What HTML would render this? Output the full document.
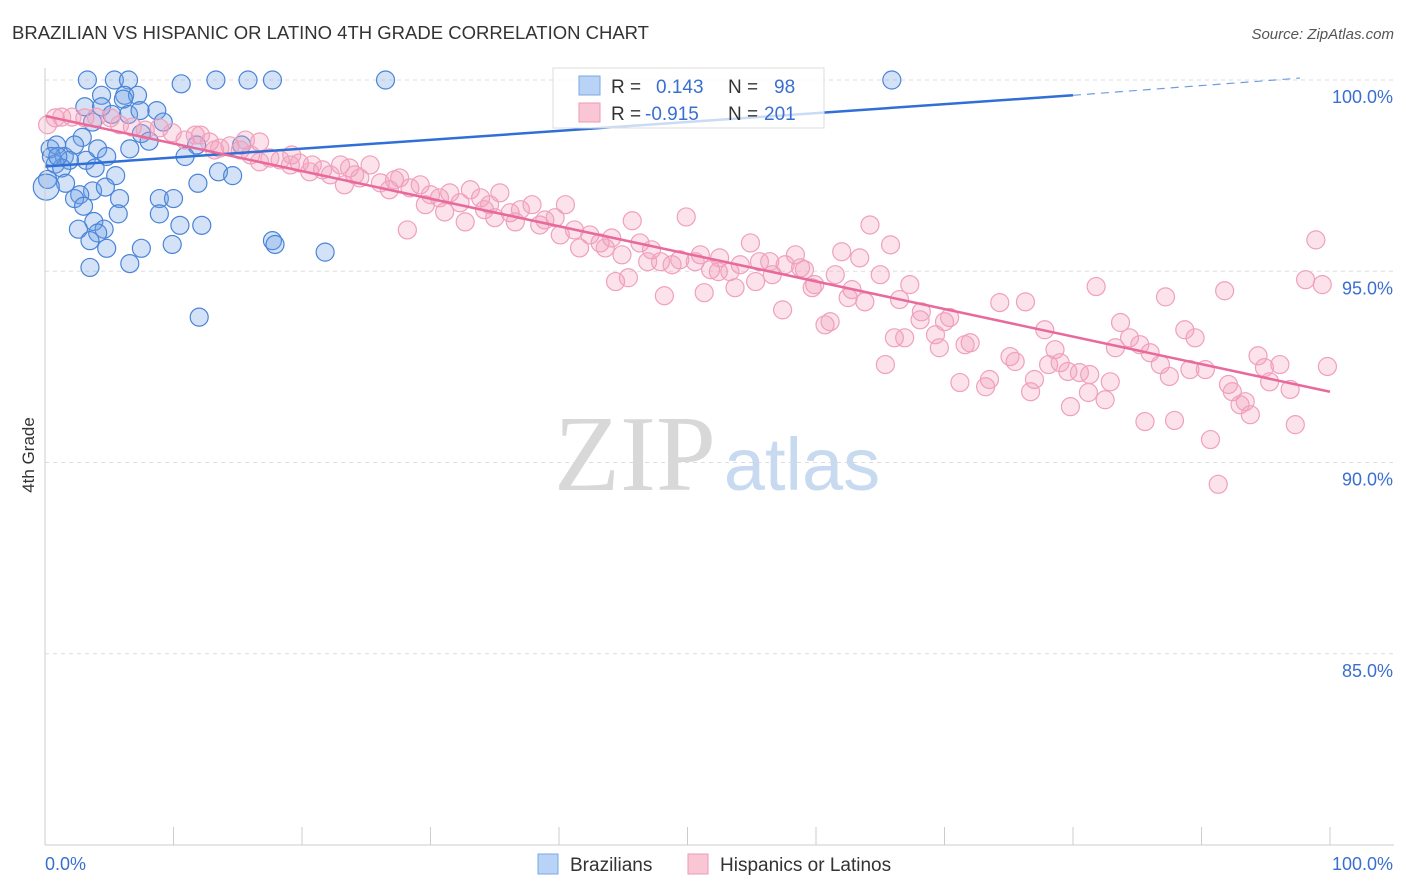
<!DOCTYPE html>
<html><head><meta charset="utf-8">
<style>
body{margin:0;background:#fff;font-family:"Liberation Sans",sans-serif;}
svg{display:block}
</style></head>
<body>
<svg id="chart" width="1406" height="892" xmlns="http://www.w3.org/2000/svg">
<text x="12" y="39" font-size="18.5" fill="#333">BRAZILIAN VS HISPANIC OR LATINO 4TH GRADE CORRELATION CHART</text>
<text x="1394" y="39" font-size="15" fill="#555" font-style="italic" text-anchor="end">Source: ZipAtlas.com</text>
<g id="grid"></g>
<g>
<text x="635" y="490" font-size="108" font-family="Liberation Serif,serif" fill="#d8d8d8" text-anchor="middle">ZIP</text>
<text x="802" y="490" font-size="74" fill="#c8daf0" text-anchor="middle">atlas</text>
</g>
<g id="blue"></g>
<g id="pink"></g>
<g id="trends"></g>
<g id="axes"></g>
<text transform="translate(34,455) rotate(-90)" font-size="17" fill="#333" text-anchor="middle">4th Grade</text>
<g>
<rect x="553" y="68" width="271" height="60" fill="#fff" fill-opacity="0.75" stroke="#ddd"/>
<rect x="579" y="76" width="21" height="19" fill="#b8d3f5" stroke="#7aa8e6"/>
<rect x="579" y="103" width="21" height="19" fill="#f9c6d6" stroke="#ef9ab6"/>
<text x="611" y="93" font-size="19" fill="#333">R =</text>
<text x="656" y="93" font-size="19" fill="#3a6fd0">0.143</text>
<text x="728" y="93" font-size="19" fill="#333">N =</text>
<text x="774" y="93" font-size="19" fill="#3a6fd0">98</text>
<text x="611" y="120" font-size="19" fill="#333">R =</text>
<text x="645" y="120" font-size="19" fill="#3a6fd0">-0.915</text>
<text x="728" y="120" font-size="19" fill="#333">N =</text>
<text x="764" y="120" font-size="19" fill="#3a6fd0">201</text>
</g>
<g>
<rect x="538" y="854" width="20" height="20" fill="#b8d3f5" stroke="#7aa8e6"/>
<text x="570" y="871" font-size="19" fill="#333">Brazilians</text>
<rect x="688" y="854" width="20" height="20" fill="#f9c6d6" stroke="#ef9ab6"/>
<text x="720" y="871" font-size="19" fill="#333">Hispanics or Latinos</text>
</g>
</svg>
<script>
const blueX=[3.3,5.4,6.5,10.6,13.3,15.8,17.7,26.5,65.9,4.4,6.2,7.2,6.1,3.1,4.4,8.7,5.2,6.5,7.4,3.7,9.2,2.9,7.5,8.1,11.8,15.3,0.4,0.9,1.5,2.3,4.1,6.6,10.9,4.8,3.2,0.8,1.9,1.3,3.9,5.5,13.5,14.6,0.2,1.6,3.7,4.7,11.9,2.7,2.3,8.9,10.0,5.8,3.0,8.9,5.7,3.8,12.2,10.5,4.6,2.6,4.1,17.7,17.9,21.8,3.5,7.5,9.9,4.8,3.5,6.6,12.0,0.5,1.0,0.1];
const blueY=[100,100,100,99.9,100,100,100,100,100,99.6,99.6,99.6,99.5,99.3,99.3,99.2,99.1,99.1,99.2,98.9,98.9,98.5,98.6,98.4,98.3,98.3,98.2,98.3,98.0,98.3,98.2,98.2,98.0,98.0,97.9,97.8,97.9,97.7,97.7,97.5,97.6,97.5,97.4,97.3,97.1,97.2,97.3,97.0,96.9,96.9,96.9,96.9,96.7,96.5,96.5,96.3,96.2,96.2,96.1,96.1,96.0,95.8,95.7,95.5,95.8,95.6,95.7,95.6,95.1,95.2,93.8,98.0,98.0,97.2];
const pinkX=[0.2,0.8,1.3,2.1,3.1,4.0,5.1,5.8,6.8,7.8,8.9,9.9,10.9,11.7,12.8,13.6,14.4,15.2,16.0,16.7,17.5,18.3,19.2,19.8,20.8,21.6,22.2,23.0,23.7,24.5,25.3,26.1,26.8,27.6,28.4,29.2,30.0,30.7,31.5,32.3,33.1,33.9,34.6,35.4,36.2,37.0,37.9,38.9,39.7,40.5,41.2,42.4,43.2,44.1,44.9,45.7,46.3,47.2,47.9,48.8,49.4,49.9,51.0,51.8,52.5,53.3,54.1,54.9,55.6,56.6,57.6,58.4,59.1,59.9,60.7,61.5,62.0,62.8,63.4,64.2,65.0,65.8,66.5,67.3,68.1,69.3,70.0,70.4,71.2,72.0,73.2,74.3,75.1,76.3,77.0,77.8,78.6,79.0,79.8,80.5,81.3,81.8,82.5,82.9,83.7,84.4,85.2,86.0,86.8,87.5,87.9,88.7,89.5,90.3,90.7,91.3,91.8,92.4,93.0,93.8,94.4,95.3,96.1,96.9,97.3,98.1,98.9,99.4,99.8,
12.1,13.2,15.6,16.7,19.1,20.6,23.3,24.1,27.2,28.2,29.6,31.1,32.7,34.2,35.0,36.6,38.5,40.1,41.6,43.6,44.4,45.4,46.9,48.2,50.6,51.3,52.4,53.7,55.3,56.4,57.4,58.8,59.7,61.1,62.5,63.8,65.4,66.1,66.9,68.2,69.6,71.6,73.5,75.5,76.7,78.1,79.6,81.2,83.3,85.6,87.2,89.1,92.1,93.4,94.9];
const pinkY=[98.83,99.01,99.03,99.03,99.01,99.03,99.01,98.83,98.77,98.69,98.75,98.62,98.43,98.56,98.38,98.22,98.28,98.17,98.04,98.38,97.96,97.91,98.04,97.83,97.78,97.65,97.52,97.78,97.70,97.44,97.78,97.31,97.13,97.44,97.18,97.26,97.00,96.92,97.05,96.79,97.13,96.92,96.74,97.05,96.53,96.61,96.74,96.34,96.40,96.74,96.08,95.95,95.74,95.87,95.43,96.32,95.74,95.56,95.25,95.17,95.30,96.42,95.43,95.04,95.35,94.99,95.17,95.74,95.25,94.91,95.17,95.43,95.04,94.65,93.60,94.91,95.51,94.52,95.35,96.21,94.91,95.69,94.26,94.65,93.73,93.34,93.68,93.79,92.09,93.13,91.98,94.18,92.77,94.20,92.17,93.47,92.95,92.61,91.46,92.35,92.30,94.60,91.64,92.11,93.66,93.26,93.08,92.87,92.56,92.25,91.10,93.47,93.26,92.43,90.60,89.43,94.49,91.85,91.51,91.25,92.79,92.11,92.56,91.91,90.99,94.78,95.82,94.65,92.51,
98.56,98.17,98.43,97.86,97.78,97.60,97.26,97.52,97.39,96.08,96.74,96.55,96.29,96.61,96.40,96.29,96.21,95.95,95.61,95.61,94.73,94.83,95.25,94.36,95.25,94.44,94.99,94.57,94.73,95.25,93.99,95.09,94.57,93.68,94.31,94.20,92.56,93.26,93.26,93.94,93.00,93.08,92.17,92.64,91.85,92.56,92.38,91.83,93.00,91.07,94.33,92.43,92.04,91.59,92.48];
const yTicks=[100,95,90,85];
const yTickLabels=["100.0%","95.0%","90.0%","85.0%"];
const xTicks=[0,10,20,30,40,50,60,70,80,90,100];
const blueTrend=[[0,97.74],[80,99.6],[100,100.05]];
const pinkTrend=[[0,99.06],[100,91.85]];

const X0=45,X1=1330,YT=80,YB=845;
const sx=v=>X0+(X1-X0)*v/100;
const sy=v=>YB-(YB-YT)*(v-80)/20;
const NS="http://www.w3.org/2000/svg";
function mk(tag,attrs,parent){const e=document.createElementNS(NS,tag);for(const k in attrs)e.setAttribute(k,attrs[k]);parent.appendChild(e);return e;}
const grid=document.getElementById('grid'),axes=document.getElementById('axes');
yTicks.forEach((t,i)=>{
  const l=mk('line',{x1:X0,x2:1394,y1:sy(t),y2:sy(t),stroke:'#ddd','stroke-dasharray':'4,4'},grid);
  
  
  const tx=mk('text',{x:1393,y:sy(t)+23,'font-size':18,fill:'#3a6fd0','text-anchor':'end'},axes);
  tx.textContent=yTickLabels[i];
  
  
});
const ax=mk('line',{x1:X0,x2:1394,y1:YB,y2:YB,stroke:'#ccc'},axes);


const ay=mk('line',{x1:X0,x2:X0,y1:68,y2:YB,stroke:'#ccc'},axes);


xTicks.forEach(t=>{
  const l=mk('line',{x1:sx(t),x2:sx(t),y1:YB-18,y2:YB,stroke:'#ccc'},axes);
  
  
});
const xl0=mk('text',{x:45,y:870,'font-size':18,fill:'#3a6fd0'},axes);xl0.textContent='0.0%';


const xl1=mk('text',{x:1393,y:870,'font-size':18,fill:'#3a6fd0','text-anchor':'end'},axes);xl1.textContent='100.0%';



const pg=document.getElementById('pink');
pinkX.forEach((v,i)=>{
  const c=mk('circle',{cx:sx(v),cy:sy(pinkY[i]),r:9,fill:'rgba(243,160,190,0.3)',stroke:'#f0a0bc','stroke-width':1.2},pg);
  
  
});
const bg=document.getElementById('blue');
blueX.forEach((v,i)=>{
  const c=mk('circle',{cx:sx(v),cy:sy(blueY[i]),r:i===blueX.length-1?13:9,fill:'rgba(110,160,230,0.3)',stroke:'#4a84d8','stroke-width':1.2},bg);
  
  
});
const tg=document.getElementById('trends');
const b1=mk('line',{x1:sx(blueTrend[0][0]),y1:sy(blueTrend[0][1]),x2:sx(blueTrend[1][0]),y2:sy(blueTrend[1][1]),stroke:'#2f6fd6','stroke-width':2.5},tg);


const b2=mk('line',{x1:sx(blueTrend[1][0]),y1:sy(blueTrend[1][1]),x2:sx(blueTrend[2][0])-30,y2:sy(blueTrend[2][1]),stroke:'#6f9ee0','stroke-width':1.2,'stroke-dasharray':'8,6'},tg);


const p1=mk('line',{x1:sx(pinkTrend[0][0]),y1:sy(pinkTrend[0][1]),x2:sx(pinkTrend[1][0]),y2:sy(pinkTrend[1][1]),stroke:'#e8699a','stroke-width':2.5},tg);


</script>
</body></html>
